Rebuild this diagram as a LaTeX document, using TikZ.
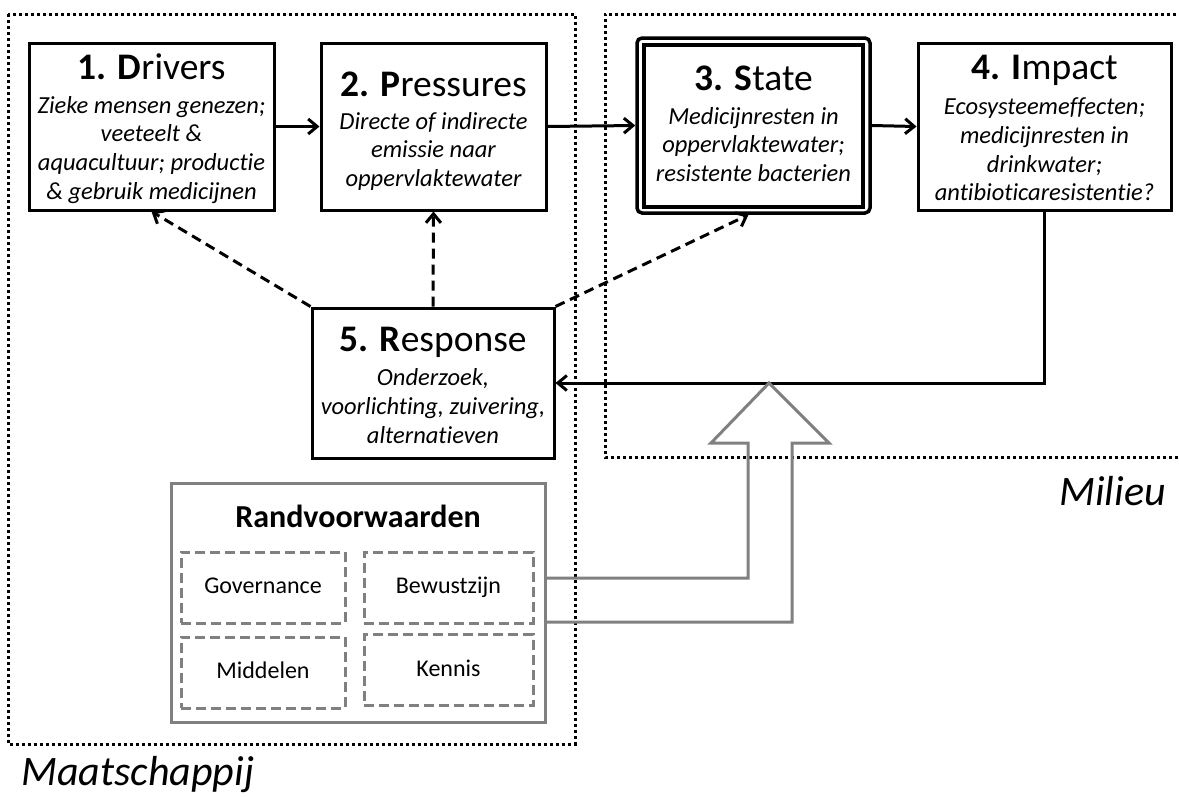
\documentclass[tikz,border=0pt]{standalone}
\usepackage{fontspec}
\setmainfont{Carlito}[Ligatures={TeX,NoCommon}]
\usetikzlibrary{arrows.meta,calc}
\newcommand\firstline{\rule{0pt}{20pt}}
\begin{document}
\begin{tikzpicture}[x=1pt,y=-1pt,
  frame/.style={draw, line width=3pt, inner sep=0pt, minimum height=167pt},
  ttl/.style={anchor=base, inner sep=0pt, font=\fontsize{37.5}{40}\selectfont},
  body/.style={anchor=north, inner sep=0pt, align=center,
    font=\fontsize{24.5}{28.7}\selectfont\itshape},
  arr/.style={line width=3pt, -{Straight Barb[length=9pt,width=15pt]}},
  darr/.style={arr, dash pattern=on 10pt off 6pt},
  dotbox/.style={line width=3pt, dash pattern=on 3pt off 3pt},
  grayline/.style={draw=gray, line width=3pt, line join=miter},
  subbox/.style={draw=gray, line width=3pt, dash pattern=on 10pt off 5pt,
    font=\fontsize{24}{28}\selectfont, inner sep=0pt, minimum height=71pt,
    text height=16pt, text depth=4pt},
  biglabel/.style={font=\fontsize{42}{42}\selectfont\itshape, inner sep=0pt}
]
\useasboundingbox (0,0) rectangle (1179,796);

% dotted regions
\draw[dotbox] (8,14) rectangle (575,744);
\draw[dotbox] (1182,14) -- (605,14) -- (605,457) -- (1182,457);
\node[biglabel, anchor=base west] (maatlabel) at (21,785) {Maatschappij};
\node[biglabel, anchor=base east] (milieulabel) at (1166,505) {Milieu};

% frames
\node[frame, minimum width=245pt] (drivers) at (151.5,126.5) {};
\node[frame, minimum width=225pt] (pressures) at (433.5,126.5) {};
\node[draw, line width=3.5pt, rounded corners=5pt, minimum width=233pt, minimum height=175pt, inner sep=0pt] (state) at (753.5,125.5) {};
\node[draw, line width=4pt, minimum width=219pt, minimum height=162pt, inner sep=0pt] (stateinner) at (753.5,126) {};
\node[frame, minimum width=253pt] (impact) at (1044.5,126.5) {};
\node[frame, minimum width=242pt, minimum height=150pt] (response) at (433,383) {};

% texts
\node[ttl] (driverstitle) at (151.5,79) {\textbf{1. D}rivers};
\node[body] (driversbody) at (151.5,93)
  {\firstline Zieke mensen genezen;\\ veeteelt \&\\ aquacultuur; productie\\ \& gebruik medicijnen};
\node[ttl] (pressurestitle) at (433.5,96) {\textbf{2. P}ressures};
\node[body] (pressuresbody) at (433.5,109)
  {\firstline Directe of indirecte\\ emissie naar\\ oppervlaktewater};
\node[ttl] (statetitle) at (753.5,90) {\textbf{3. S}tate};
\node[body] (statebody) at (753.5,104)
  {\firstline Medicijnresten in\\ oppervlaktewater;\\ resistente bacterien};
\node[ttl] (impacttitle) at (1044.5,79) {\textbf{4. I}mpact};
\node[body] (impactbody) at (1044.5,94.5)
  {\firstline Ecosysteemeffecten;\\ medicijnresten in\\ drinkwater;\\ antibioticaresistentie?};
\node[ttl] (responsetitle) at (433,351) {\textbf{5. R}esponse};
\node[body, font=\fontsize{24.5}{29}\selectfont\itshape] (responsebody) at (433,365)
  {\firstline Onderzoek,\\ voorlichting, zuivering,\\ alternatieven};

% randvoorwaarden
\node[draw=gray, line width=3pt, minimum width=374pt, minimum height=239pt, inner sep=0pt] (rvw) at (358,602.5) {};
\node[font=\fontsize{32}{32}\selectfont\bfseries, anchor=base, inner sep=0pt] (rvwtitle) at (358,527) {Randvoorwaarden};
\node[subbox, minimum width=164pt] (gov) at (263,587.5) {Governance};
\node[subbox, minimum width=169pt] (bew) at (448.5,587.5) {Bewustzijn};
\node[subbox, minimum width=164pt] (mid) at (263,672.5) {Middelen};
\node[subbox, minimum width=169pt] (ken) at (448.5,670) {Kennis};

% connectors
\draw[arr] (drivers.east) -- (pressures.west);
\draw[arr] (pressures.east) -- (state.west);
\draw[arr] (state.east) -- (impact.west);
\draw[arr] (impact.south) |- (response.east);
\draw[darr] (response.north west) -- (drivers.south);
\draw[darr] (response.north) -- (pressures.south);
\draw[darr] (response.north east) -- ($(state.south)+(-5,0)$);

% gray block arrow
\coordinate (gup) at (0,578);
\coordinate (gdn) at (0,622);
\draw[grayline] (rvw.east |- gup) -- (748,578) -- (748,443) -- (711,443) -- (769,383)
  -- (829,443) -- (792,443) -- (792,622) -- (rvw.east |- gdn);
\end{tikzpicture}
\end{document}
